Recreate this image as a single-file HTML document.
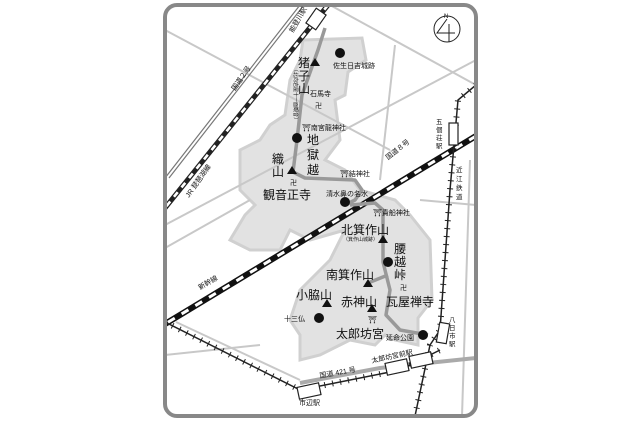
<!DOCTYPE html>
<html><head><meta charset="utf-8"><style>
body{margin:0;background:#fff}
svg text{font-family:"Liberation Sans","Noto Sans CJK JP",sans-serif;fill:#111}
</style></head><body>
<svg width="640" height="420" viewBox="0 0 640 420" xmlns="http://www.w3.org/2000/svg">
<defs><clipPath id="c"><rect x="165" y="5" width="311" height="411" rx="12"/></clipPath></defs>
<g clip-path="url(#c)">
<path d="M303,40 L362,38 L366,60 L348,72 L345,95 L335,100 L340,140 L325,160 L345,170 L360,190 L395,200 L410,215 L430,240 L432,300 L418,318 L418,345 L395,340 L385,335 L375,345 L350,340 L320,355 L300,360 L300,335 L290,320 L300,290 L330,260 L345,230 L310,240 L290,230 L280,250 L250,250 L230,240 L245,215 L255,205 L240,190 L240,150 L260,140 L270,125 L285,115 L290,80 L300,60 Z" fill="#e2e2e2" stroke="#d0d0d0" stroke-width="3"/>
<g stroke="#c8c8c8" stroke-width="2" fill="none">
<line x1="165" y1="30" x2="390" y2="150"/>
<line x1="330" y1="5" x2="476" y2="85"/>
<line x1="165" y1="225" x2="476" y2="60"/>
<line x1="395" y1="45" x2="380" y2="180"/>
<line x1="420" y1="200" x2="476" y2="205"/>
<line x1="165" y1="355" x2="260" y2="345"/>
<line x1="176" y1="322" x2="300" y2="380"/>
<line x1="470" y1="160" x2="462" y2="416"/>
<line x1="165" y1="248" x2="250" y2="200"/>
</g>
<g stroke="#777" stroke-width="1.2" fill="none">
<line x1="300" y1="5" x2="165" y2="178"/>
<line x1="304" y1="5" x2="169" y2="178"/>
</g>
<path d="M300,383 L380,368 L476,358" stroke="#aaa" stroke-width="4" fill="none"/>
<line x1="328" y1="5" x2="165" y2="208" stroke="#222" stroke-width="5"/>
<line x1="328" y1="5" x2="165" y2="208" stroke="#fff" stroke-width="2.6" stroke-dasharray="6 6"/>
<line x1="476" y1="136" x2="165" y2="324" stroke="#111" stroke-width="6"/>
<line x1="476" y1="136" x2="165" y2="324" stroke="#fff" stroke-width="3" stroke-dasharray="8 8"/>
<g stroke="#222" stroke-width="1.5" fill="none">
<path d="M476,85 L458,100 L450,190 L440,330 L430,345 L415,416"/>
<path d="M165,322 L300,390 L400,370 L440,350"/>
</g>
<g stroke="#222" stroke-width="6" fill="none" stroke-dasharray="1 7">
<path d="M476,85 L458,100 L450,190 L440,330 L430,345 L415,416"/>
<path d="M165,322 L300,390 L400,370 L440,350"/>
</g>
<g fill="#fff" stroke="#222" stroke-width="1.2">
<rect x="310" y="10" width="12" height="18" transform="rotate(35 316 19)"/>
<rect x="449" y="123" width="9" height="22"/>
<rect x="438" y="323" width="10" height="20" transform="rotate(10 443 333)"/>
<rect x="410" y="354" width="22" height="12" transform="rotate(-12 421 360)"/>
<rect x="386" y="361" width="22" height="12" transform="rotate(-12 397 367)"/>
<rect x="298" y="385" width="22" height="12" transform="rotate(-12 309 391)"/>
</g>
<path d="M325,28 L318,50 L313,64 L302,95 L297,140 L293,172 L305,178 L355,180 L362,190 L355,200 L345,205 M350,205 L375,203 L383,210 L383,262 L390,290 L386,315 L400,330 L428,335 M388,275 L368,283" stroke="#999" stroke-width="3.5" fill="none" stroke-linejoin="round"/>
<g fill="#111">
<circle cx="340" cy="53" r="5"/>
<circle cx="297" cy="138" r="5"/>
<circle cx="345" cy="202" r="5"/>
<circle cx="388" cy="262" r="5"/>
<circle cx="319" cy="318" r="5"/>
<circle cx="423" cy="335" r="5"/>
<path d="M315,58 l5,8 h-10z"/>
<path d="M292,166 l5,8 h-10z"/>
<path d="M383,235 l5,8 h-10z"/>
<path d="M368,279 l5,8 h-10z"/>
<path d="M327,299 l5,8 h-10z"/>
<path d="M372,304 l5,8 h-10z"/>
</g>
</g>
<rect x="165" y="5" width="311" height="411" rx="12" fill="none" stroke="#888" stroke-width="4"/>
<circle cx="447" cy="29" r="13" fill="#fff" stroke="#222" stroke-width="1"/>
<text x="444" y="18" font-size="6">N</text>
<path d="M447,19 L437,33 L455,33 M449,24 L449,42" stroke="#222" fill="none"/>
<g font-size="7">
<text x="333" y="68">佐生日吉城跡</text>
<text x="310" y="96">石馬寺</text>
<text x="315" y="108">卍</text>
<text x="302" y="130">⛩南宮龍神社</text>
<text x="340" y="176">⛩結神社</text>
<text x="326" y="196">清水鼻の名水</text>
<text x="373" y="215">⛩貴船神社</text>
<text x="290" y="185">卍</text>
<text x="400" y="290">卍</text>
<text x="368" y="322">⛩</text>
<text x="284" y="321">十三仏</text>
<text x="386" y="340">延命公園</text>
<text x="320" y="378" transform="rotate(-10 320 378)">国道 421 号</text>
<text x="372" y="363" transform="rotate(-12 372 363)">太郎坊宮前駅</text>
<text x="299" y="405">市辺駅</text>
<text x="235" y="91" transform="rotate(-55 235 91)">国道２号</text>
<text x="189" y="198" transform="rotate(-55 189 198)">JR 琵琶湖線</text>
<text x="200" y="290" transform="rotate(-30 200 290)">新幹線</text>
<text x="388" y="160" transform="rotate(-38 388 160)">国道８号</text>
<text x="293" y="33" transform="rotate(-60 293 33)">能登川駅</text>
</g>
<g font-size="6.5">
<text x="436" y="124">五</text><text x="436" y="132">個</text><text x="436" y="140">荘</text><text x="436" y="148">駅</text>
<text x="456" y="172">近</text><text x="456" y="181">江</text><text x="456" y="190">鉄</text><text x="456" y="199">道</text>
<text x="449" y="322">八</text><text x="449" y="330">日</text><text x="449" y="338">市</text><text x="449" y="346">駅</text>
</g>
<g font-size="5">
<text x="294" y="67" transform="rotate(90 294 67)">〔北向岩屋十一面観音〕</text>
<text x="343" y="241">（箕作山城跡）</text>
</g>
<g font-size="12">
<text x="298" y="67">猪</text><text x="298" y="80">子</text><text x="298" y="93">山</text>
<text x="307" y="144">地</text><text x="307" y="159">獄</text><text x="307" y="174">越</text>
<text x="272" y="163">織</text><text x="272" y="176">山</text>
<text x="263" y="199">観音正寺</text>
<text x="341" y="234">北箕作山</text>
<text x="394" y="253">腰</text><text x="394" y="266">越</text><text x="394" y="279">峠</text>
<text x="326" y="279">南箕作山</text>
<text x="296" y="299">小脇山</text>
<text x="341" y="306">赤神山</text>
<text x="386" y="306">瓦屋禅寺</text>
<text x="336" y="338">太郎坊宮</text>
</g>
</svg>
</body></html>
